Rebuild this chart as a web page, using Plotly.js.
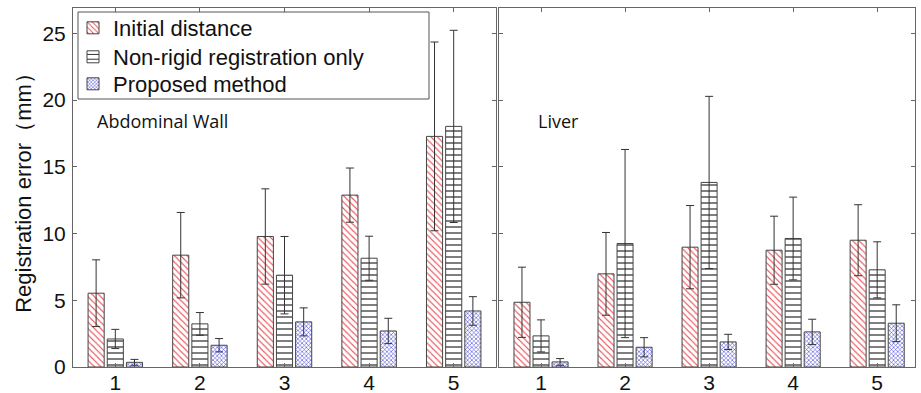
<!DOCTYPE html>
<html>
<head>
<meta charset="utf-8">
<script src="https://cdn.plot.ly/plotly-3.0.1.min.js"></script>
<style>html,body{margin:0;padding:0;background:#fff;}#chart{width:921px;height:393px;}</style>
</head>
<body>
<div id="chart"></div>
<script>
const cases = [1, 2, 3, 4, 5];
const seriesNames = ["Initial distance", "Non-rigid registration only", "Proposed method"];

// Abdominal wall
const wallInitial = [5.53, 8.38, 9.78, 12.88, 17.28];
const wallInitialErr = [2.5, 3.2, 3.57, 2.03, 7.07];
const wallNonrigid = [2.1, 3.23, 6.88, 8.15, 18.03];
const wallNonrigidErr = [0.72, 0.85, 2.9, 1.65, 7.2];
const wallProposed = [0.35, 1.63, 3.38, 2.7, 4.2];
const wallProposedErr = [0.22, 0.5, 1.05, 0.95, 1.07];

// Liver
const liverInitial = [4.85, 6.98, 8.98, 8.75, 9.5];
const liverInitialErr = [2.63, 3.1, 3.12, 2.55, 2.66];
const liverNonrigid = [2.33, 9.25, 13.83, 9.63, 7.28];
const liverNonrigidErr = [1.2, 7.05, 6.45, 3.1, 2.1];
const liverProposed = [0.38, 1.48, 1.88, 2.63, 3.28];
const liverProposedErr = [0.25, 0.72, 0.57, 0.95, 1.38];

const yTicks = [0, 5, 10, 15, 20, 25];
const panelLabels = ["Abdominal Wall", "Liver"];

const patterns = [
  {shape: "\\", fgcolor: "#e8474f", bgcolor: "#ffffff", size: 4.5, solidity: 0.25},
  {shape: "-", fgcolor: "#111111", bgcolor: "#ffffff", size: 6, solidity: 0.18},
  {shape: "x", fgcolor: "#4646d8", bgcolor: "#ffffff", size: 3, solidity: 0.35}
];
const legendIds = ["legend", "legend2", "legend3"];

function mk(vals, errs, idx, xa, ya, show) {
  return {
    type: "bar", x: cases, y: vals, name: seriesNames[idx],
    xaxis: xa, yaxis: ya, showlegend: show, legend: legendIds[idx],
    marker: {color: "#ffffff", pattern: patterns[idx], line: {color: "#444", width: 1}},
    error_y: {type: "data", array: errs, visible: true, color: "#333", thickness: 1, width: 4},
    hoverinfo: "skip"
  };
}

const data = [
  mk(wallInitial, wallInitialErr, 0, "x", "y", true),
  mk(wallNonrigid, wallNonrigidErr, 1, "x", "y", true),
  mk(wallProposed, wallProposedErr, 2, "x", "y", true),
  mk(liverInitial, liverInitialErr, 0, "x2", "y2", false),
  mk(liverNonrigid, liverNonrigidErr, 1, "x2", "y2", false),
  mk(liverProposed, liverProposedErr, 2, "x2", "y2", false)
];

const W = 921, H = 393;
const FONT = "Liberation Sans, Arial, sans-serif";
const axCommon = {
  showgrid: false, zeroline: false, showline: true, linecolor: "#666", linewidth: 1,
  mirror: "allticks", ticks: "inside", ticklen: 4, tickcolor: "#666",
  tickfont: {family: FONT, size: 21, color: "#111"},
  automargin: false, fixedrange: true
};

function leg(topPx) {
  return {
    x: 73 / W, y: 1 - topPx / H, xanchor: "left", yanchor: "top",
    bgcolor: "rgba(0,0,0,0)", borderwidth: 0,
    font: {family: FONT, size: 22, color: "#111"},
    itemclick: false
  };
}

const layout = {
  width: W, height: H,
  margin: {l: 0, r: 0, t: 0, b: 0},
  paper_bgcolor: "#fff", plot_bgcolor: "#fff",
  barmode: "group", bargap: 0.32, bargroupgap: 0.16,
  font: {family: FONT, color: "#111"},
  xaxis: Object.assign({}, axCommon, {domain: [73 / W, 496 / W], range: [0.5, 5.5], tickvals: cases, anchor: "y", ticklabelstandoff: -3}),
  yaxis: Object.assign({}, axCommon, {domain: [1 - 367 / H, 1 - 8 / H], range: [0, 26.9], tickvals: yTicks, anchor: "x", ticklabelstandoff: 2,
    title: {text: "Registration error（mm）", font: {family: FONT, size: 22, color: "#111"}, standoff: 4}}),
  xaxis2: Object.assign({}, axCommon, {domain: [499 / W, 915 / W], range: [0.5, 5.45], tickvals: cases, anchor: "y2", ticklabelstandoff: -3}),
  yaxis2: Object.assign({}, axCommon, {domain: [1 - 367 / H, 1 - 8 / H], range: [0, 26.9], tickvals: yTicks, showticklabels: false, anchor: "x2"}),
  legend: leg(7),
  legend2: leg(36),
  legend3: leg(63),
  shapes: [
    {type: "rect", xref: "paper", yref: "paper", x0: 78 / W, x1: 429 / W, y0: 1 - 99 / H, y1: 1 - 12 / H,
      line: {color: "#555", width: 1}, fillcolor: "rgba(255,255,255,0)", layer: "above"}
  ],
  annotations: [
    {text: panelLabels[0], xref: "paper", yref: "paper", x: 95 / W, y: 1 - 121 / H, xanchor: "left", yanchor: "middle", showarrow: false,
      font: {family: "Open Sans, sans-serif", size: 18, color: "#111"}},
    {text: panelLabels[1], xref: "paper", yref: "paper", x: 536 / W, y: 1 - 121 / H, xanchor: "left", yanchor: "middle", showarrow: false,
      font: {family: "Open Sans, sans-serif", size: 18, color: "#111"}}
  ]
};

Plotly.newPlot("chart", data, layout, {staticPlot: true, displayModeBar: false});
</script>
</body>
</html>
